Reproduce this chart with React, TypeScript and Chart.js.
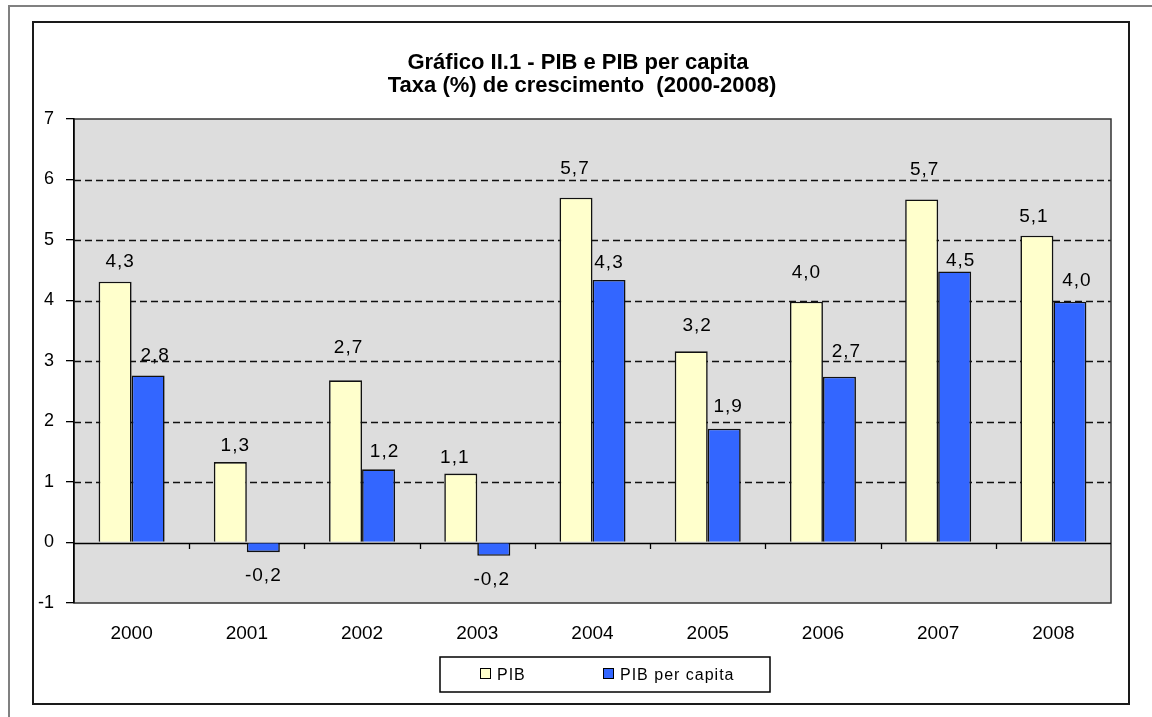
import { useEffect, useRef } from "react";
import { Chart, registerables } from "chart.js";

Chart.register(...registerables);

const years = ["2000", "2001", "2002", "2003", "2004", "2005", "2006", "2007", "2008"];
const pib = [4.31, 1.33, 2.68, 1.14, 5.7, 3.16, 3.98, 5.67, 5.07];
const pibPerCapita = [2.76, -0.16, 1.21, -0.22, 4.34, 1.88, 2.74, 4.48, 3.98];
const seriesNames = ["PIB", "PIB per capita"];
const seriesColors = ["#FFFFCC", "#3366FF"];
const titleLines = ["Gráfico II.1 - PIB e PIB per capita", "Taxa (%) de crescimento  (2000-2008)"];
const yMin = -1;
const yMax = 7;

// label nudges (pixels) relative to the bar end, as placed in the original
const labelGap = [
  [15, 11, 27, 11, 24, 20, 24, 24, 14],
  [15, 15, 12, 15, 12, 17, 20, 5, 16],
];
const labelDx = [
  [5, 5, 3, -6, -1, 6, 0, 3, -3],
  [7, 0, 6, -2, 0, 4, 7, 6, 7],
];

const FONT = "'Liberation Sans', Arial, sans-serif";
const fmt = (v: number) => v.toFixed(1).replace(".", ",");

const decor = {
  id: "decor",
  beforeDraw(chart: any) {
    const { ctx, chartArea: a, scales } = chart;
    const y = scales.y;
    ctx.save();
    ctx.fillStyle = "#ffffff";
    ctx.fillRect(0, 0, chart.width, chart.height);
    // outer frame
    ctx.strokeStyle = "#808080";
    ctx.lineWidth = 2;
    ctx.beginPath();
    ctx.moveTo(9, chart.height + 4);
    ctx.lineTo(9, 6);
    ctx.lineTo(chart.width + 4, 6);
    ctx.stroke();
    // inner frame
    ctx.strokeStyle = "#1a1a1a";
    ctx.lineWidth = 2;
    ctx.strokeRect(33, 22, 1096, 682);
    // plot background
    ctx.fillStyle = "#dddddd";
    ctx.fillRect(a.left, a.top, a.right - a.left, a.bottom - a.top);
    // dashed grid lines
    ctx.lineWidth = 1.3;
    ctx.strokeStyle = "#111111";
    ctx.setLineDash([7, 4]);
    for (const t of y.ticks) {
      if (t.value <= yMin || t.value >= yMax || t.value === 0) continue;
      const py = Math.round(y.getPixelForValue(t.value)) + 0.5;
      ctx.beginPath();
      ctx.moveTo(a.left, py);
      ctx.lineTo(a.right, py);
      ctx.stroke();
    }
    ctx.setLineDash([]);
    // plot border
    ctx.strokeStyle = "#333333";
    ctx.lineWidth = 1.5;
    ctx.strokeRect(a.left, a.top, a.right - a.left, a.bottom - a.top);
    // zero line
    const pz = Math.round(y.getPixelForValue(0)) + 0.5;
    ctx.strokeStyle = "#000000";
    ctx.lineWidth = 1.3;
    ctx.beginPath();
    ctx.moveTo(a.left, pz);
    ctx.lineTo(a.right, pz);
    ctx.stroke();
    ctx.restore();
  },
  afterDatasetsDraw(chart: any) {
    const { ctx, scales } = chart;
    const x = scales.x;
    const y = scales.y;
    ctx.save();
    // category tick marks at zero line
    const pz = Math.round(y.getPixelForValue(0));
    ctx.strokeStyle = "#000000";
    ctx.lineWidth = 1.3;
    for (let i = 0; i < years.length - 1; i++) {
      const bx = Math.round((x.getPixelForValue(i) + x.getPixelForValue(i + 1)) / 2) + 0.5;
      ctx.beginPath();
      ctx.moveTo(bx, pz);
      ctx.lineTo(bx, pz + 6);
      ctx.stroke();
    }
    // data labels
    ctx.fillStyle = "#000000";
    ctx.font = `19px ${FONT}`;
    (ctx as any).letterSpacing = "1px";
    ctx.textAlign = "center";
    chart.data.datasets.forEach((ds: any, di: number) => {
      const meta = chart.getDatasetMeta(di);
      meta.data.forEach((bar: any, i: number) => {
        const v = ds.data[i];
        const label = fmt(v);
        const dx = labelDx[di][i];
        const gap = labelGap[di][i];
        if (v >= 0) {
          ctx.textBaseline = "alphabetic";
          ctx.fillText(label, bar.x + dx, bar.y - gap);
        } else {
          ctx.textBaseline = "alphabetic";
          ctx.fillText(label, bar.x + dx, bar.y + gap + 14);
        }
      });
    });
    ctx.restore();
  },
  afterDraw(chart: any) {
    const { ctx } = chart;
    ctx.save();
    // title
    ctx.fillStyle = "#000000";
    ctx.font = `bold 22px ${FONT}`;
    ctx.textAlign = "center";
    ctx.textBaseline = "alphabetic";
    ctx.fillText(titleLines[0], 578, 69);
    ctx.fillText(titleLines[1], 582, 92);
    // legend
    ctx.strokeStyle = "#000000";
    ctx.lineWidth = 1.5;
    ctx.strokeRect(440, 657, 330, 35);
    const items = [
      { sx: 480, tx: 497 },
      { sx: 603, tx: 620 },
    ];
    ctx.font = `16px ${FONT}`;
    (ctx as any).letterSpacing = "1px";
    ctx.textAlign = "left";
    ctx.textBaseline = "middle";
    chart.data.datasets.forEach((ds: any, i: number) => {
      const it = items[i];
      ctx.fillStyle = ds.backgroundColor;
      ctx.fillRect(it.sx, 668, 10, 10);
      ctx.lineWidth = 1;
      ctx.strokeStyle = "#000000";
      ctx.strokeRect(it.sx + 0.5, 668.5, 10, 10);
      ctx.fillStyle = "#000000";
      ctx.fillText(ds.label, it.tx, 676);
    });
    ctx.restore();
  },
};

export default function App() {
  const ref = useRef<HTMLCanvasElement | null>(null);
  useEffect(() => {
    if (!ref.current) return;
    const chart = new Chart(ref.current, {
      type: "bar",
      data: {
        labels: years,
        datasets: [
          {
            label: seriesNames[0],
            data: pib,
            backgroundColor: seriesColors[0],
            borderColor: "#111111",
            borderWidth: 1.6,
            barPercentage: 1,
            categoryPercentage: 0.573,
          },
          {
            label: seriesNames[1],
            data: pibPerCapita,
            backgroundColor: seriesColors[1],
            borderColor: "#111111",
            borderWidth: 1.6,
            barPercentage: 1,
            categoryPercentage: 0.573,
          },
        ],
      },
      options: {
        responsive: false,
        animation: false,
        devicePixelRatio: 1,
        layout: { padding: { left: 0, top: 119, right: 41, bottom: 0 } },
        plugins: {
          legend: { display: false },
          title: { display: false },
          tooltip: { enabled: false },
        },
        scales: {
          x: {
            position: "bottom",
            grid: { display: false, drawTicks: true, tickLength: 8 },
            border: { display: false },
            ticks: {
              color: "#000000",
              font: { family: FONT, size: 19 },
              padding: 11,
              maxRotation: 0,
            },
            afterFit(scale: any) {
              scale.height = 114;
            },
          },
          y: {
            min: yMin,
            max: yMax,
            ticks: {
              stepSize: 1,
              color: "#000000",
              font: { family: FONT, size: 18 },
              padding: 12,
            },
            grid: {
              drawOnChartArea: false,
              drawTicks: true,
              tickLength: 8,
              color: "#000000",
              lineWidth: 1.3,
            },
            border: { display: true, color: "#000000", width: 1.5 },
            afterFit(scale: any) {
              scale.width = 74;
            },
          },
        },
      },
      plugins: [decor],
    });
    return () => chart.destroy();
  }, []);
  return (
    <div style={{ position: "fixed", left: 0, top: 0, width: 1152, height: 717, background: "#fff" }}>
      <canvas ref={ref} width={1152} height={717} />
    </div>
  );
}
